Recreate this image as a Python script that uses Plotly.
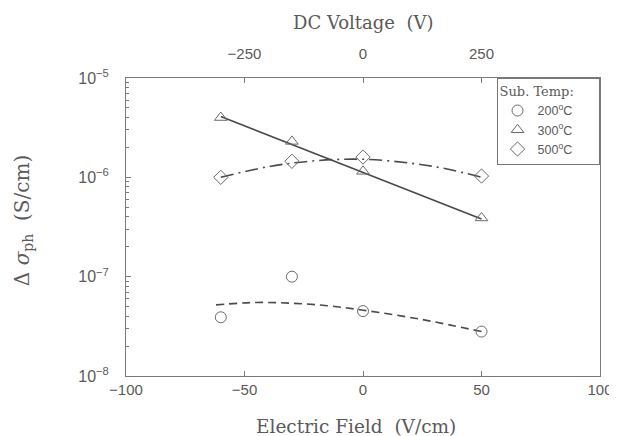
import plotly.graph_objects as go

# ---------------- data ----------------
field = [-60, -30, 0, 50]                      # Electric field, V/cm
sig_200 = [3.9e-8, 1.0e-7, 4.5e-8, 2.8e-8]     # 200 C, circles
sig_300 = [4.0e-6, 2.3e-6, 1.15e-6, 3.9e-7]    # 300 C, triangles
sig_500 = [1.0e-6, 1.45e-6, 1.6e-6, 1.03e-6]   # 500 C, diamonds

fit200_x = [-62, -45, -30, -15, 0, 25, 50]
fit200_y = [5.2e-8, 5.5e-8, 5.4e-8, 5.1e-8, 4.6e-8, 3.7e-8, 2.8e-8]
fit300_x = [-60, 50]
fit300_y = [4.1e-6, 3.8e-7]
fit500_x = [-60, -40, -20, 0, 20, 35, 50]
fit500_y = [1.0e-6, 1.28e-6, 1.47e-6, 1.52e-6, 1.39e-6, 1.22e-6, 1.0e-6]

legend_names = ["200<sup>o</sup>C", "300<sup>o</sup>C", "500<sup>o</sup>C"]
y_tickvals = [1e-8, 1e-7, 1e-6, 1e-5]
y_ticktext = ["10<sup>\u22128</sup>", "10<sup>\u22127</sup>", "10<sup>\u22126</sup>", "10<sup>\u22125</sup>"]
x_tickvals = [-100, -50, 0, 50, 100]
x_ticktext = ["\u2212100", "\u221250", "0", "50", "100"]
v_tickvals = [-250, 0, 250]
v_ticktext = ["\u2212250", "0", "250"]

LINE = "#4a4a4a"
MARK = "#6a6a6a"
TEXT = "#5a5a5a"
AX = "#7a7a7a"
SERIF = "DejaVu Serif"
SANS = "Liberation Sans"
PAD = "\u00a0" * 6

fig = go.Figure()

# fitted curves
fig.add_trace(go.Scatter(x=fit200_x, y=fit200_y, mode="lines", line_shape="spline",
                         line=dict(color=LINE, width=1.6, dash="8px,5px"), showlegend=False))
fig.add_trace(go.Scatter(x=fit300_x, y=fit300_y, mode="lines",
                         line=dict(color=LINE, width=1.6), showlegend=False))
fig.add_trace(go.Scatter(x=fit500_x, y=fit500_y, mode="lines", line_shape="spline",
                         line=dict(color=LINE, width=1.6, dash="13px,5px,2px,5px"), showlegend=False))

# data markers
symbols = ["circle-open", "triangle-up-open", "diamond-open"]
for yv, sym, name in zip([sig_200, sig_300, sig_500], symbols, legend_names):
    fig.add_trace(go.Scatter(x=field, y=yv, mode="markers", name=name + PAD,
                             marker=dict(symbol=sym, size=11, color=MARK, line=dict(width=1, color=MARK)),
                             showlegend=True))

# top axis dummy trace
fig.add_trace(go.Scatter(x=[0], y=[1e-6], xaxis="x2", mode="markers",
                         marker=dict(opacity=0), showlegend=False, hoverinfo="skip"))

fig.update_layout(
    width=617, height=436,
    margin=dict(l=118, r=21, t=70, b=68),
    paper_bgcolor="white", plot_bgcolor="white",
    showlegend=True,
    xaxis=dict(range=[-100, 100], tickvals=x_tickvals, ticktext=x_ticktext,
               ticks="inside", ticklen=5, tickcolor=AX, showline=True, linecolor=AX,
               linewidth=1, mirror=True, showgrid=False, zeroline=False,
               tickfont=dict(family=SANS, size=15, color=TEXT), ticklabelstandoff=0),
    xaxis2=dict(range=[-500, 500], overlaying="x", side="top", anchor="y",
                tickvals=v_tickvals, ticktext=v_ticktext, ticks="inside", ticklen=5,
                tickcolor=AX, showline=False, showgrid=False, zeroline=False,
                tickfont=dict(family=SANS, size=15, color=TEXT), ticklabelstandoff=15),
    yaxis=dict(type="log", range=[-8, -5], tickvals=y_tickvals, ticktext=y_ticktext,
               ticks="inside", ticklen=5, tickcolor=AX, showline=True, linecolor=AX,
               linewidth=1, mirror=True, showgrid=False, zeroline=False,
               tickfont=dict(family=SANS, size=16, color=TEXT), ticklabelstandoff=13,
               minor=dict(ticks="inside", ticklen=3, tickcolor=AX,
                          tickvals=[m * 10.0 ** e for e in (-8, -7, -6) for m in range(2, 10)],
                          showgrid=False)),
    legend=dict(x=0.999, xanchor="right", y=1.0, yanchor="top",
                bordercolor="#777", borderwidth=1, bgcolor="white",
                font=dict(family=SANS, size=12.5, color=TEXT),
                title=dict(text="Sub. Temp:", font=dict(family=SERIF, size=13, color=TEXT)),
                itemwidth=30, tracegroupgap=0),
)

fig.add_annotation(text="Electric Field  (V/cm)", xref="paper", yref="paper",
                   x=0.485, y=-0.17, xanchor="center", yanchor="middle", showarrow=False,
                   font=dict(family=SERIF, size=18.5, color=TEXT))
fig.add_annotation(text="DC Voltage  (V)", xref="paper", yref="paper",
                   x=0.50, y=1.187, xanchor="center", yanchor="middle", showarrow=False,
                   font=dict(family=SERIF, size=18, color=TEXT))
fig.add_annotation(text="\u0394 <i>\u03c3</i><sub>ph</sub>  (S/cm)", xref="paper", yref="paper",
                   x=-0.217, y=0.52, xanchor="center", yanchor="middle", showarrow=False,
                   textangle=-90, font=dict(family=SERIF, size=20, color=TEXT))

fig.write_html("out.html")
